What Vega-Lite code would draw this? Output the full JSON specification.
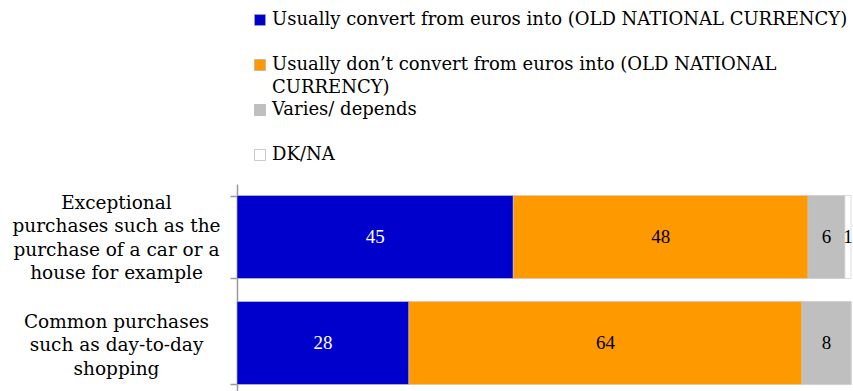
{
  "$schema": "https://vega.github.io/schema/vega-lite/v6.json",
  "autosize": "none",
  "padding": {"left": 237, "top": 184, "right": 2, "bottom": 0},
  "width": 614,
  "height": 212,
  "background": "white",
  "config": {"view": {"stroke": null}, "font": "DejaVu Serif", "style": {"guide-label": {"lineHeight": 23}}},
  "data": {"values": [
    {"item": "Exceptional purchases such as the purchase of a car or a house for example", "answer": "Usually convert from euros into (OLD NATIONAL CURRENCY)", "o": 1, "value": 45},
    {"item": "Exceptional purchases such as the purchase of a car or a house for example", "answer": "Usually don’t convert from euros into (OLD NATIONAL CURRENCY)", "o": 2, "value": 48},
    {"item": "Exceptional purchases such as the purchase of a car or a house for example", "answer": "Varies/ depends", "o": 3, "value": 6},
    {"item": "Exceptional purchases such as the purchase of a car or a house for example", "answer": "DK/NA", "o": 4, "value": 1},
    {"item": "Common purchases such as day-to-day shopping", "answer": "Usually convert from euros into (OLD NATIONAL CURRENCY)", "o": 1, "value": 28},
    {"item": "Common purchases such as day-to-day shopping", "answer": "Usually don’t convert from euros into (OLD NATIONAL CURRENCY)", "o": 2, "value": 64},
    {"item": "Common purchases such as day-to-day shopping", "answer": "Varies/ depends", "o": 3, "value": 8},
    {"item": "Common purchases such as day-to-day shopping", "answer": "DK/NA", "o": 4, "value": 0}
  ]},
  "encoding": {
    "y": {"field": "item", "type": "nominal", "sort": null,
      "scale": {"paddingInner": 0.217, "paddingOuter": 0.1085},
      "axis": {"title": null, "domainColor": "#999999", "tickColor": "#999999", "tickSize": 7, "tickBand": "extent", "domainWidth": 1.5, "tickWidth": 1.5,
        "labelAlign": "center", "labelPadding": 114, "labelFontSize": 18.5, "labelColor": "#000000", "labelLineHeight": 23.5, "labelBaseline": "middle", "labelLimit": 300,
        "labelOffset": {"condition": {"test": "datum.value == 'Common purchases such as day-to-day shopping'", "value": -22}, "value": -35},
        "labelExpr": "datum.value == 'Common purchases such as day-to-day shopping' ? ['Common purchases', 'such as day-to-day', 'shopping'] : datum.value == 'Exceptional purchases such as the purchase of a car or a house for example' ? ['Exceptional', 'purchases such as the', 'purchase of a car or a', 'house for example'] : ''"}},
    "x": {"field": "value", "type": "quantitative", "stack": "zero",
      "scale": {"domain": [0, 100]}, "axis": null}
  },
  "layer": [
    {
      "mark": {"type": "bar", "stroke": "#c8c8c8", "strokeWidth": 0.6},
      "encoding": {
        "color": {"field": "answer", "type": "nominal",
          "sort": ["Usually convert from euros into (OLD NATIONAL CURRENCY)", "Usually don’t convert from euros into (OLD NATIONAL CURRENCY)", "Varies/ depends", "DK/NA"],
          "scale": {"domain": ["Usually convert from euros into (OLD NATIONAL CURRENCY)", "Usually don’t convert from euros into (OLD NATIONAL CURRENCY)", "Varies/ depends", "DK/NA"],
                    "range": ["#0000CC", "#FF9900", "#BFBFBF", "#FFFFFF"]},
          "legend": {"title": null, "orient": "none", "legendX": 14, "legendY": -173, "direction": "vertical",
            "symbolType": "square", "symbolSize": 121, "symbolStrokeColor": "#aaaaaa", "symbolStrokeWidth": 0.6,
            "labelFontSize": 18, "labelColor": "#000000", "labelLimit": 700, "labelOffset": 3, "rowPadding": 4, "gridAlign": "all", "labelBaseline": "middle",
            "labelExpr": "datum.value == 'Usually don’t convert from euros into (OLD NATIONAL CURRENCY)' ? ['Usually don’t convert from euros into (OLD NATIONAL', 'CURRENCY)'] : datum.value"}},
        "order": {"field": "o", "type": "quantitative"}
      }
    },
    {
      "transform": [{"filter": "datum.value > 0"}],
      "mark": {"type": "text", "fontSize": 19, "font": "Liberation Serif"},
      "encoding": {
        "x": {"field": "value", "type": "quantitative", "stack": "zero", "bandPosition": 0.5},
        "text": {"field": "value", "type": "quantitative"},
        "detail": {"field": "answer"},
        "order": {"field": "o", "type": "quantitative"},
        "color": {"condition": {"test": "datum.o == 1", "value": "#ffffff"}, "value": "#000000"}
      }
    }
  ]
}
